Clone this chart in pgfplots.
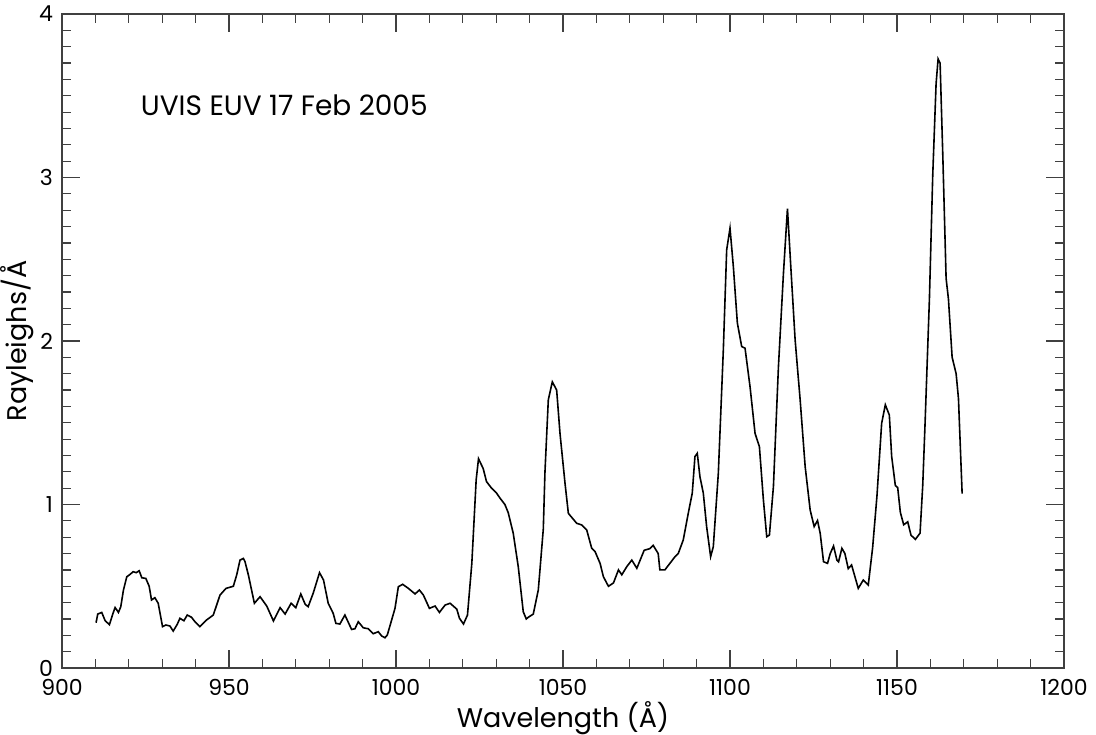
\documentclass[border=0pt]{standalone}
\usepackage{fontspec}
\setmainfont{Poppins}
\usepackage{pgfplots}
\pgfplotsset{compat=1.18}

\begin{document}
\begin{tikzpicture}
\begin{axis}[
    scale only axis,
    width=501pt, height=327pt,
    xmin=900, xmax=1200, ymin=0, ymax=4,
    xtick={900,950,...,1200}, ytick={0,1,2,3,4},
    minor x tick num=4, minor y tick num=9,
    tick pos=both, tick align=inside,
    major tick length=9pt, minor tick length=4.5pt,
    axis line style={line width=0.6pt, black!75},
    every tick/.style={line width=0.6pt, black!75},
    tick label style={font=\fontsize{11}{13}\selectfont},
    /pgf/number format/assume math mode=true,
    /pgf/number format/1000 sep={},
    xticklabel style={yshift=-2pt},
    yticklabel style={xshift=-1pt},
    xlabel={Wavelength (Å)}, ylabel={Rayleighs/Å},
    label style={font=\fontsize{13.5}{15}\selectfont},
    xlabel style={yshift=4pt},
    ylabel style={yshift=-4pt},
]
\addplot[black, line width=0.8pt, mark=none] coordinates {
(910.2,0.277) (910.7,0.33) (911.9,0.34) (912.9,0.29) (914.2,0.265) (915.2,0.33)
(915.9,0.37) (916.9,0.34) (917.6,0.375) (918.4,0.477) (919.4,0.558) (920.4,0.573)
(921.3,0.589) (922.2,0.583) (923.1,0.595) (923.9,0.552) (925.1,0.548) (926.1,0.50)
(926.8,0.416) (927.8,0.43) (928.8,0.396) (930.1,0.253) (931.1,0.263) (932.3,0.257)
(933.3,0.226) (934.5,0.267) (935.3,0.304) (936.5,0.289) (937.5,0.324) (938.8,0.31)
(939.8,0.283) (941.3,0.253) (943.3,0.294) (945.3,0.324) (947.3,0.446) (949.1,0.487)
(951.3,0.50) (952.3,0.569) (953.3,0.66) (954.3,0.67) (954.8,0.65) (955.8,0.569)
(957.6,0.396) (959.3,0.436) (961.3,0.379) (963.3,0.288) (965.3,0.369) (966.8,0.33)
(968.6,0.396) (970.0,0.369) (971.5,0.453) (972.8,0.39) (973.7,0.375) (975.2,0.457)
(977.1,0.583) (978.3,0.538) (979.7,0.396) (981.2,0.334) (982.0,0.273) (983.2,0.269)
(984.7,0.324) (986.7,0.236) (987.7,0.24) (988.7,0.283) (990.2,0.246) (991.7,0.24)
(993.2,0.21) (994.7,0.222) (995.7,0.196) (996.7,0.185) (997.4,0.202) (998.7,0.294)
(999.7,0.365) (1000.7,0.497) (1002.0,0.512) (1003.7,0.487) (1005.7,0.453) (1007.0,0.477)
(1008.2,0.446) (1010.0,0.365) (1011.7,0.379) (1013.0,0.34) (1014.7,0.385) (1016.2,0.396)
(1018.2,0.36) (1019.0,0.304) (1020.2,0.269) (1021.4,0.324) (1022.7,0.64) (1024.0,1.15)
(1024.7,1.28) (1026.1,1.22) (1027.1,1.14) (1028.6,1.10) (1030.1,1.07) (1031.1,1.04)
(1032.6,1.0) (1033.6,0.95) (1035.1,0.824) (1036.6,0.62) (1038.1,0.344) (1039.0,0.30)
(1039.6,0.31) (1041.1,0.33) (1042.6,0.477) (1043.1,0.6) (1044.1,0.85) (1044.6,1.20)
(1045.6,1.64) (1046.8,1.75) (1048.1,1.70) (1049.1,1.435) (1050.6,1.13) (1051.6,0.946)
(1054.1,0.885) (1055.6,0.875) (1057.1,0.844) (1058.6,0.732) (1059.6,0.712) (1061.1,0.64)
(1062.1,0.558) (1063.6,0.50) (1065.1,0.52) (1066.6,0.6) (1067.6,0.57) (1069.1,0.62)
(1070.6,0.66) (1072.1,0.61) (1073.1,0.66) (1074.3,0.72) (1076.0,0.73) (1077.0,0.75)
(1078.5,0.70) (1079.0,0.60) (1080.5,0.60) (1082.0,0.64) (1083.5,0.68) (1084.5,0.70)
(1086.0,0.783) (1087.5,0.946) (1088.7,1.07) (1089.5,1.293) (1090.2,1.313) (1091.0,1.17)
(1092.0,1.07) (1093.0,0.865) (1094.2,0.681) (1095.0,0.742) (1096.5,1.19) (1098.0,1.945)
(1099.0,2.557) (1100.0,2.69) (1101.0,2.455) (1102.2,2.11) (1103.5,1.966) (1104.5,1.956)
(1106.0,1.72) (1107.5,1.435) (1108.8,1.354) (1110.0,1.027) (1111.0,0.803) (1111.8,0.813)
(1113.0,1.11) (1114.5,1.843) (1116.0,2.414) (1117.2,2.81) (1118.2,2.455) (1119.5,2.006)
(1121.0,1.64) (1122.5,1.232) (1124.0,0.966) (1125.2,0.865) (1126.2,0.902) (1127.0,0.824)
(1128.0,0.65) (1129.2,0.64) (1130.0,0.70) (1131.0,0.746) (1132.0,0.66) (1132.5,0.65)
(1133.5,0.732) (1134.4,0.70) (1135.4,0.608) (1136.4,0.63) (1138.4,0.487) (1139.9,0.538)
(1141.4,0.508) (1142.7,0.736) (1144.0,1.053) (1145.4,1.496) (1146.5,1.61) (1147.7,1.547)
(1148.4,1.294) (1149.5,1.116) (1150.2,1.104) (1151.0,0.952) (1152.0,0.876) (1153.2,0.894)
(1154.2,0.812) (1155.5,0.787) (1156.9,0.825) (1157.7,1.116) (1158.4,1.496) (1159.7,2.256)
(1160.7,3.016) (1161.7,3.573) (1162.3,3.725) (1162.9,3.70) (1163.7,3.143) (1164.7,2.383)
(1165.4,2.256) (1166.5,1.901) (1167.7,1.80) (1168.4,1.648) (1169.5,1.066)
};
\node[anchor=west, font=\fontsize{14}{16}\selectfont] at (axis cs:921.5,3.44) {UVIS EUV 17 Feb 2005};
\end{axis}
\pgfresetboundingbox
\useasboundingbox (-31pt,-33pt) rectangle (517pt,334pt);
\end{tikzpicture}
\end{document}
